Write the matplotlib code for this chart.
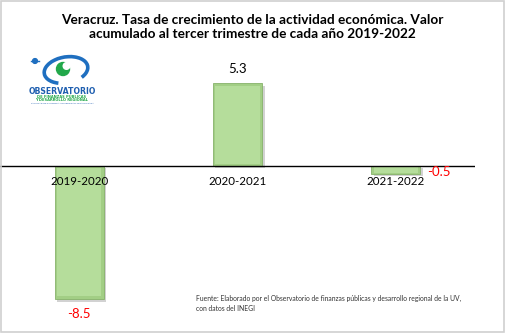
import matplotlib
matplotlib.use("Agg")
import matplotlib.pyplot as plt
import matplotlib.transforms as mtransforms
from matplotlib.patches import Rectangle, Arc, Circle

categories = ["2019-2020", "2020-2021", "2021-2022"]
values = [-8.5, 5.3, -0.5]
value_labels = ["-8.5", "5.3", "-0.5"]

title = ("Veracruz. Tasa de crecimiento de la actividad económica. Valor\n"
         "acumulado al tercer trimestre de cada año 2019-2022")
source = ("Fuente: Elaborado por el Observatorio de finanzas públicas y desarrollo regional de la UV,\n"
          "con datos del INEGI")

W, H = 505, 333
fig = plt.figure(figsize=(W / 100, H / 100), dpi=100)
fig.patch.set_facecolor("white")

ax_left, ax_right = 0, 475
ax_top, ax_bot = 60, 310
ax = fig.add_axes([ax_left / W, 1 - ax_bot / H, (ax_right - ax_left) / W, (ax_bot - ax_top) / H])
ax.set_xlim(-0.5, 2.5)
zero_px = 166
ppu = 15.65
ax.set_ylim(-(ax_bot - zero_px) / ppu, (zero_px - ax_top) / ppu)
ax.axis("off")

x = list(range(len(categories)))
bw = 0.31

# shadow
shadow_tr = mtransforms.offset_copy(ax.transData, fig=fig, x=2.5, y=-2.5, units="dots")
ax.bar(x, values, width=bw, color="#8f8f8f", alpha=0.4, transform=shadow_tr, zorder=1)
# bevel outer
ax.bar(x, values, width=bw, color="#A2CE85", edgecolor="#86B26A", linewidth=0.6, zorder=2)
# inner face
inset = [0.2 if abs(v) > 0.6 else 0.08 for v in values]
inner_top = [v + s if v < 0 else v - s for v, s in zip(values, inset)]
inner_bottom = [-s / 2 if v < 0 else s / 2 for v, s in zip(values, inset)]
ax.bar(x, [t - b for t, b in zip(inner_top, inner_bottom)], bottom=inner_bottom,
       width=bw * 0.9, color="#B5DD9B", linewidth=0, zorder=3)

ax.axhline(0, color="black", linewidth=1.0, zorder=4)

fam = ["Lato", "DejaVu Sans"]
for xi, c in zip(x, categories):
    ax.annotate(c, (xi, 0), xytext=(0, -11), textcoords="offset points",
                ha="center", va="center", fontsize=8.3, family=fam, color="black", zorder=6)

offsets = [(0, -10.5), (0, 10), (5, 1.5)]
colors = ["red" if v < 0 else "black" for v in values]
for xi, v, lab, off, col in zip(x, values, value_labels, offsets, colors):
    ha = "left" if off[0] > 0 else "center"
    ax.annotate(lab, (xi + (bw / 2 if off[0] > 0 else 0), v), xytext=off, textcoords="offset points",
                ha=ha, va="center", fontsize=9.5, family=fam, color=col, zorder=6)

fig.text(252 / W, 1 - 27 / H, title, ha="center", va="center", fontsize=9.8,
         fontweight="bold", family=fam, linespacing=1.25)

fig.text(196 / W, 1 - 303 / H, source, ha="left", va="center", fontsize=4.9,
         family=fam, color="#333333", linespacing=1.5)

# logo (approximate)
lax = fig.add_axes([0, 0, 1, 1], zorder=10)
lax.set_xlim(0, W)
lax.set_ylim(H, 0)
lax.axis("off")
lax.add_patch(Arc((66, 70), 44, 26, angle=-10, theta1=130, theta2=395, color="#1f6fc0", lw=2.6))
lax.add_patch(Circle((63, 69), 6.5, color="#22a84a"))
lax.add_patch(Circle((66.5, 66), 3.3, color="white"))
lax.add_patch(Circle((35, 61), 2.4, color="#1f6fc0"))
lax.plot([31, 39], [61, 61], color="#1f6fc0", lw=1)
lax.text(62, 91, "OBSERVATORIO", ha="center", va="center", fontsize=5.6, fontweight="bold",
         color="#1f5fb0", family="DejaVu Sans")
lax.text(62, 96.5, "DE FINANZAS PÚBLICAS", ha="center", va="center", fontsize=2.6, fontweight="bold",
         color="#22a84a", family="DejaVu Sans")
lax.text(62, 100, "Y DESARROLLO REGIONAL", ha="center", va="center", fontsize=2.6, fontweight="bold",
         color="#22a84a", family="DejaVu Sans")
lax.text(62, 103.5, "FACULTAD DE ECONOMÍA UNIVERSIDAD VERACRUZANA", ha="center", va="center",
         fontsize=1.6, color="#1f5fb0", family="DejaVu Sans")

lax.add_patch(Rectangle((0.5, 0.5), W - 1.5, H - 1.5, fill=False, edgecolor="#d0d0d0", lw=1.2))

fig.savefig("out.png", dpi=100)
